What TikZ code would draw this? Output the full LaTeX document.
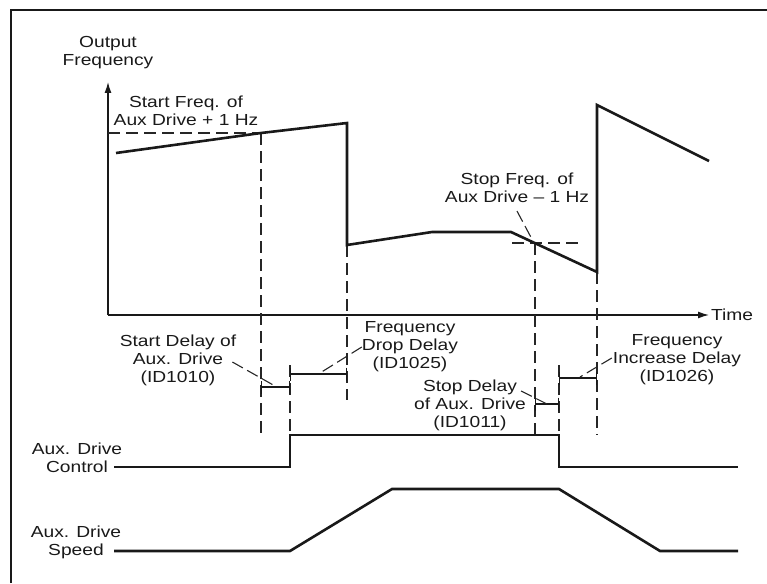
\documentclass[tikz,border=0pt]{standalone}
\usepackage{fontspec}
\setmainfont{Liberation Sans}[FakeStretch=1.2]
\usetikzlibrary{arrows.meta}

\begin{document}
\begin{tikzpicture}[x=1pt, y=-1pt,
    wave/.style={line width=2.6pt, draw=black!90},
    axis/.style={line width=1.3pt, draw=black!90, -{Latex[length=11pt,width=7pt]}},
    guide/.style={line width=1.1pt, draw=black!85, dash pattern=on 12pt off 6pt},
    leader/.style={line width=1.1pt, draw=black!85, dash pattern=on 12pt off 5pt},
    delay/.style={line width=2.4pt, draw=black!90, {Bar[width=13pt,line width=1.1pt]}-{Bar[width=13pt,line width=1.1pt]}},
    lbl/.style={font=\fontsize{16}{18}\selectfont, align=center, inner sep=0pt, text=black!90}
]
    \useasboundingbox (0,0) rectangle (767,583);

    % Frame
    \draw[line width=1.5pt, black!90] (11,583) -- (11,10) -- (767,10);

    % Axes
    \coordinate (O) at (108,315);
    \coordinate (ytop) at (108,82);
    \node[lbl] (ofreq) at (108,53) {Output\\Frequency};
    \node[lbl, anchor=west] (time) at (711,315) {Time};
    \draw[axis] (O) -- (ytop);
    \draw[axis, shorten >=2pt] (O) -- (time.west);

    % Guides
    \foreach \x/\ya/\yb in {261/133/435, 290/365/435, 347/245/400, 535/243/435, 559/365/435, 597/272/435}
        \draw[guide] (\x,\ya) -- (\x,\yb);
    \draw[guide] (108,133) -- (261,133);
    \draw[guide] (512,243) -- (583,243);

    % Output frequency
    \draw[wave] (116,153) -- (261,133) -- (347,123) -- (347,245) -- (432,232) -- (511,232)
        -- (597,272) -- (597,105) -- (709,161);

    % Delays
    \draw[delay] (261,387) -- (290,387);
    \draw[delay] (290,374) -- (347,374);
    \draw[delay] (535,404) -- (559,404);
    \draw[delay] (559,378) -- (597,378);

    % Labels
    \node[lbl] (startf) at (186,111) {Start Freq. of\\Aux Drive + 1 Hz};
    \node[lbl] (stopf) at (517,188) {Stop Freq. of\\Aux Drive – 1 Hz};
    \node[lbl] (startd) at (178,360) {Start Delay of\\Aux. Drive\\(ID1010)};
    \node[lbl] (dropd) at (410,347) {Frequency\\Drop Delay\\(ID1025)};
    \node[lbl] (stopd) at (470,405) {Stop Delay\\of Aux. Drive\\(ID1011)};
    \node[lbl] (incd) at (677,360) {Frequency\\Increase Delay\\(ID1026)};
    \node[lbl] (ctrl) at (77,458) {Aux. Drive\\Control};
    \node[lbl] (speed) at (76,542) {Aux. Drive\\Speed};

    % Leaders
    \coordinate (stopfx) at (534,243);
    \coordinate (startdx) at (275,386);
    \coordinate (dropdx) at (320,373);
    \coordinate (stopdx) at (547,404);
    \coordinate (incdx) at (580,377);
    \draw[leader] ([shift={(0,8)}]stopf.south) -- (stopfx);
    \draw[leader] ([shift={(-4,2)}]startd.east) -- (startdx);
    \draw[leader] (dropd.west) -- (dropdx);
    \draw[leader] ([shift={(-5,-14)}]stopd.east) -- (stopdx);
    \draw[leader] ([shift={(-1,-2)}]incd.west) -- (incdx);

    % Aux. drive control and speed
    \draw[wave] (114,467) -- (290,467) -- (290,435) -- (559,435) -- (559,467) -- (738,467);
    \draw[wave] (114,551) -- (290,551) -- (392,489) -- (559,489) -- (660,551) -- (738,551);

\end{tikzpicture}
\end{document}
